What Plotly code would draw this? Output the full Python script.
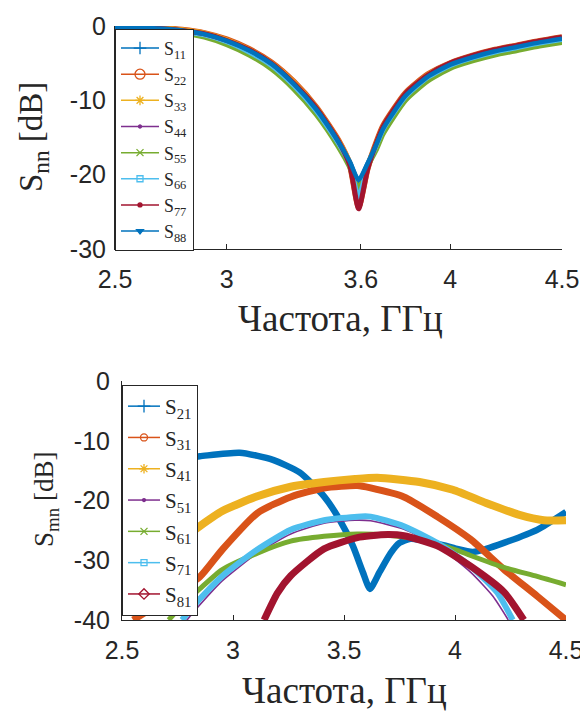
import plotly.graph_objects as go

# ---------------- top panel data (S_nn) ----------------
F_TOP = [2.5, 2.6, 2.7, 2.8, 2.9, 3.0, 3.1, 3.2, 3.3, 3.4, 3.5, 3.55, 3.59,
         3.63, 3.67, 3.7, 3.8, 3.9, 4.0, 4.1, 4.2, 4.3, 4.4, 4.5]
S11 = [-0.1, -0.2, -0.35, -0.6, -1.1, -2.0, -3.3, -5.1, -7.8, -11.2, -15.6, -18.3, -21.0,
       -18.6, -15.9, -13.8, -9.4, -6.8, -5.2, -4.2, -3.4, -2.8, -2.2, -1.7]
S22 = [0.0, -0.1, -0.25, -0.5, -0.95, -1.8, -3.1, -4.9, -7.5, -10.9, -15.4, -18.6, -24.3,
       -19.2, -15.6, -13.4, -9.0, -6.5, -5.0, -4.0, -3.2, -2.6, -2.0, -1.5]
S33 = [-0.05, -0.15, -0.3, -0.55, -1.0, -1.9, -3.2, -5.0, -7.6, -11.0, -15.5, -18.5, -23.8,
       -19.0, -15.8, -13.6, -9.2, -6.6, -5.1, -4.1, -3.3, -2.7, -2.1, -1.6]
S44 = [-0.1, -0.2, -0.4, -0.65, -1.15, -2.1, -3.4, -5.3, -8.0, -11.4, -15.8, -18.5, -22.5,
       -18.8, -16.0, -13.9, -9.5, -6.9, -5.3, -4.3, -3.5, -2.9, -2.3, -1.8]
S55 = [-0.3, -0.4, -0.6, -0.9, -1.5, -2.5, -3.9, -5.8, -8.5, -11.9, -16.3, -19.0, -21.8,
       -18.9, -16.6, -14.5, -10.0, -7.4, -5.7, -4.7, -3.9, -3.3, -2.7, -2.2]
S66 = [-0.15, -0.25, -0.4, -0.7, -1.2, -2.1, -3.5, -5.3, -8.0, -11.4, -15.8, -18.6, -23.0,
       -18.9, -16.0, -13.9, -9.5, -6.9, -5.3, -4.3, -3.5, -2.9, -2.3, -1.8]
S77 = [-0.1, -0.2, -0.35, -0.6, -1.05, -1.95, -3.2, -5.0, -7.7, -11.0, -15.5, -18.7, -24.6,
       -19.3, -15.7, -13.5, -9.1, -6.6, -5.0, -4.0, -3.2, -2.6, -2.0, -1.5]
S88 = [-0.1, -0.2, -0.35, -0.6, -1.1, -2.0, -3.3, -5.1, -7.8, -11.2, -15.6, -18.2, -20.7,
       -18.5, -15.9, -13.8, -9.4, -6.8, -5.2, -4.2, -3.4, -2.8, -2.2, -1.7]

TOP_NAMES = ["S<sub>11</sub>", "S<sub>22</sub>", "S<sub>33</sub>", "S<sub>44</sub>",
             "S<sub>55</sub>", "S<sub>66</sub>", "S<sub>77</sub>", "S<sub>88</sub>"]
TOP_SERIES = [S11, S22, S33, S44, S55, S66, S77, S88]

# ---------------- bottom panel data (S_mn) ----------------
X21 = [2.5, 2.6, 2.7, 2.85, 3.03, 3.18, 3.3, 3.41, 3.48, 3.54, 3.585, 3.617, 3.66, 3.71,
       3.75, 3.8, 3.9, 4.0, 4.08, 4.14, 4.22, 4.37, 4.5]
S21 = [-15.5, -14.0, -13.2, -12.6, -12.0, -13.2, -15.3, -19.3, -23.2, -27.6, -32.0, -34.8,
       -32.0, -28.8, -27.1, -26.4, -27.0, -28.0, -28.6, -28.1, -27.1, -24.9, -21.9]
X31 = [2.55, 2.7, 2.85, 2.95, 3.11, 3.26, 3.41, 3.56, 3.62, 3.77, 3.92, 4.07, 4.22, 4.37, 4.5]
S31 = [-40.0, -36.5, -32.8, -28.3, -22.1, -19.4, -17.9, -17.5, -17.9, -19.4, -22.7, -26.5,
       -31.5, -36.0, -40.0]
X41 = [2.5, 2.7, 2.85, 2.95, 3.11, 3.26, 3.41, 3.55, 3.65, 3.84, 3.99, 4.14, 4.29, 4.4, 4.5]
S41 = [-35.0, -28.5, -24.3, -21.8, -19.3, -17.7, -16.9, -16.4, -16.2, -16.9, -18.2, -20.4,
       -22.4, -23.3, -23.3]
X51 = [2.77, 2.85, 2.95, 3.11, 3.26, 3.41, 3.55, 3.62, 3.77, 3.92, 4.07, 4.17, 4.24]
S51 = [-41.0, -37.5, -33.5, -28.8, -25.6, -23.8, -23.3, -23.4, -24.8, -27.6, -32.0, -36.0, -40.0]
X61 = [2.71, 2.78, 2.85, 2.95, 3.11, 3.26, 3.41, 3.56, 3.7, 3.85, 4.0, 4.07, 4.22, 4.37, 4.5]
S61 = [-40.0, -37.2, -34.8, -31.6, -28.8, -26.8, -26.0, -25.6, -25.8, -26.6, -28.2, -29.2,
       -31.2, -32.7, -34.1]
X71 = [2.77, 2.85, 2.95, 3.11, 3.26, 3.41, 3.56, 3.62, 3.77, 3.92, 4.07, 4.19, 4.26]
S71 = [-40.0, -36.5, -32.7, -28.2, -24.9, -23.3, -22.7, -22.7, -24.3, -27.1, -31.0, -35.4, -40.0]
X81 = [3.14, 3.2, 3.26, 3.41, 3.56, 3.62, 3.7, 3.77, 3.92, 4.07, 4.22, 4.31]
S81 = [-40.0, -35.5, -32.6, -28.1, -26.2, -25.9, -25.7, -25.9, -27.6, -31.0, -35.3, -40.0]

BOT_NAMES = ["S<sub>21</sub>", "S<sub>31</sub>", "S<sub>41</sub>", "S<sub>51</sub>",
             "S<sub>61</sub>", "S<sub>71</sub>", "S<sub>81</sub>"]
BOT_X = [X21, X31, X41, X51, X61, X71, X81]
BOT_Y = [S21, S31, S41, S51, S61, S71, S81]

TOP_XTICKS = [2.5, 3, 3.6, 4, 4.5]
BOT_XTICKS = [2.5, 3, 3.5, 4, 4.5]
TOP_YTICKS = [0, -10, -20, -30]
BOT_YTICKS = [0, -10, -20, -30, -40]

# ---------------- styles ----------------
C = ["#0072BD", "#D95319", "#EDB120", "#7E2F8E", "#77AC30", "#4DBEEE", "#A2142F"]
TOP_COLORS = C + [C[0]]
TOP_SYMBOLS = ["cross-thin-open", "circle-open", "asterisk-open", "circle",
               "x-thin-open", "square-open", "circle", "triangle-down"]
TOP_MSIZE = [9, 10, 8, 3, 7, 6, 4, 6]
TOP_WIDTH = [5, 6, 5.5, 4, 5, 5, 5, 4.5]
BOT_SYMBOLS = ["cross-thin-open", "circle-open", "asterisk-open", "circle",
               "x-thin-open", "square-open", "diamond-open"]
BOT_MSIZE = [9, 7, 8, 3, 7, 6, 8]
BOT_WIDTH = [6.5, 7, 8, 1.6, 5, 6, 7]

INK = "#262626"
SERIF = "Liberation Serif"
SANS = "Liberation Sans"

# page body has an 8px margin: figure pixel = page pixel - OFF
OFF = 8
W, H = 580, 705


def fx(p):
    return (p - OFF) / W


def fy(p):
    return 1 - (p - OFF) / H


def hy(v):
    return ("%g" % v)


fig = go.Figure()

for name, ys, col, w in zip(TOP_NAMES, TOP_SERIES, TOP_COLORS, TOP_WIDTH):
    fig.add_trace(go.Scatter(x=F_TOP, y=ys, mode="lines", showlegend=False,
                             line=dict(color=col, width=w, shape="spline", smoothing=0.6),
                             xaxis="x", yaxis="y"))
for i, (name, col, sym, ms) in enumerate(zip(TOP_NAMES, TOP_COLORS, TOP_SYMBOLS, TOP_MSIZE)):
    fig.add_trace(go.Scatter(x=[None], y=[None], mode="lines+markers", name=name,
                             legend="legend", legendgroup="t%d" % i,
                             line=dict(color=col, width=1.5),
                             marker=dict(symbol=sym, size=ms, color=col, line=dict(color=col, width=1.3)),
                             xaxis="x", yaxis="y"))

for xs, ys, col, w in zip(BOT_X, BOT_Y, C, BOT_WIDTH):
    fig.add_trace(go.Scatter(x=xs, y=ys, mode="lines", showlegend=False,
                             line=dict(color=col, width=w, shape="spline", smoothing=0.6),
                             xaxis="x2", yaxis="y2"))
for i, (name, col, sym, ms) in enumerate(zip(BOT_NAMES, C, BOT_SYMBOLS, BOT_MSIZE)):
    fig.add_trace(go.Scatter(x=[None], y=[None], mode="lines+markers", name=name,
                             legend="legend2", legendgroup="b%d" % i,
                             line=dict(color=col, width=1.5),
                             marker=dict(symbol=sym, size=ms, color=col, line=dict(color=col, width=1.3)),
                             xaxis="x2", yaxis="y2"))

axis_common = dict(showline=True, linecolor=INK, linewidth=1, ticks="inside", ticklen=5,
                   tickcolor=INK, showgrid=False, zeroline=False, automargin=False,
                   tickfont=dict(family=SANS, size=25, color=INK))

fig.update_layout(
    width=W, height=H, autosize=False,
    margin=dict(l=0, r=0, t=0, b=0, pad=0, autoexpand=False),
    paper_bgcolor="white", plot_bgcolor="white",
    xaxis=dict(domain=[fx(115), fx(562)], range=[2.5, 4.5], tickvals=TOP_XTICKS,
               ticktext=[hy(t) for t in TOP_XTICKS], anchor="y", ticklabelstandoff=8, **axis_common),
    yaxis=dict(domain=[fy(249), fy(26)], range=[-30, 0], tickvals=TOP_YTICKS,
               ticktext=[hy(t) for t in TOP_YTICKS], anchor="x", ticklabelstandoff=3, **axis_common),
    xaxis2=dict(domain=[fx(122), fx(566)], range=[2.5, 4.5], tickvals=BOT_XTICKS,
                ticktext=[hy(t) for t in BOT_XTICKS], anchor="y2", ticklabelstandoff=8, **axis_common),
    yaxis2=dict(domain=[fy(620), fy(381)], range=[-40, 0], tickvals=BOT_YTICKS,
                ticktext=[hy(t) for t in BOT_YTICKS], anchor="x2", ticklabelstandoff=6, **axis_common),
    legend=dict(x=fx(115), y=fy(29), xanchor="left", yanchor="top", xref="paper", yref="paper",
                bgcolor="white", bordercolor=INK, borderwidth=1,
                font=dict(family=SERIF, size=17.8, color=INK), tracegroupgap=0, itemwidth=38),
    legend2=dict(x=fx(122), y=fy(385), xanchor="left", yanchor="top", xref="paper", yref="paper",
                 bgcolor="white", bordercolor=INK, borderwidth=1,
                 font=dict(family=SERIF, size=21, color=INK), tracegroupgap=1, itemwidth=32),
    annotations=[
        dict(text="Частота, ГГц", x=fx(340), y=fy(318), xref="paper", yref="paper",
             xanchor="center", yanchor="middle",
             showarrow=False, font=dict(family=SERIF, size=37, color=INK)),
        dict(text="Частота, ГГц", x=fx(344), y=fy(690), xref="paper", yref="paper",
             xanchor="center", yanchor="middle",
             showarrow=False, font=dict(family=SERIF, size=37, color=INK)),
        dict(text="S<sub>nn</sub> [dB]", x=fx(34), y=fy(137), xref="paper", yref="paper",
             xanchor="center", yanchor="middle",
             showarrow=False, textangle=-90, font=dict(family=SERIF, size=33, color=INK)),
        dict(text="S<sub>mn</sub> [dB]", x=fx(46), y=fy(500), xref="paper", yref="paper",
             xanchor="center", yanchor="middle",
             showarrow=False, textangle=-90, font=dict(family=SERIF, size=27, color=INK)),
    ],
)

fig.write_html("out.html")
